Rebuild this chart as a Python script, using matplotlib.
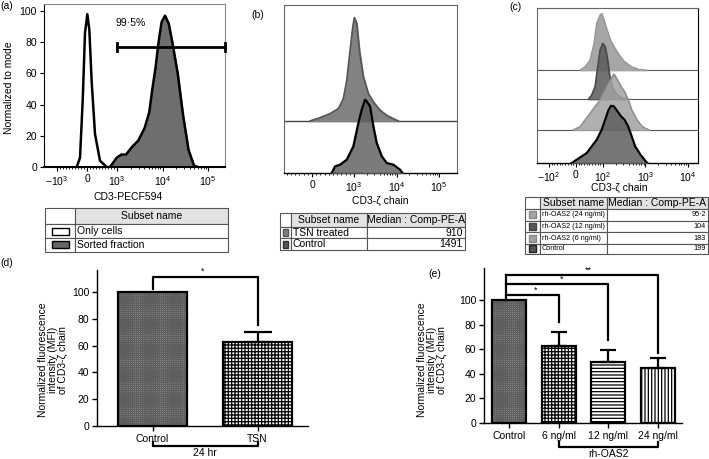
import numpy as np
import matplotlib
matplotlib.use('Agg')
import matplotlib.pyplot as plt
from matplotlib.patches import Rectangle

plt.rcParams['font.family'] = ['Liberation Sans', 'DejaVu Sans']
plt.rcParams['mathtext.fontset'] = 'custom'
plt.rcParams['mathtext.rm'] = 'Liberation Sans'
plt.rcParams['hatch.linewidth'] = 0.9

# ---------------- data ----------------
# (a) histograms (CD3-PECF594 intensity, normalized to mode)
a_only_x = [-343, -233, -143, -67, 10, 77, 157, 267, 433, 657]
a_only_y = [0, 6, 43, 86, 98, 88, 54, 21, 4, 0]
a_sorted_x = [767, 990, 1247, 1577, 2150, 2940, 4030, 5100, 5970, 6970,
              8170, 9550, 11350, 13670, 16400, 21550, 28300, 37250, 49000, 59000]
a_sorted_y = [0, 6, 8, 8, 13, 17, 25, 35, 50, 63, 80, 93, 97, 92, 80, 60, 33, 11, 1, 0]
a_gate_x = [1000, 236000]
a_gate_y = 77
a_gate_label = '99·5%'
a_xticks = [-1000, 0, 1000, 10000, 100000]
a_xticklabels = [r'$\mathregular{-10^{3}}$', '0', r'$\mathregular{10^{3}}$',
                 r'$\mathregular{10^{4}}$', r'$\mathregular{10^{5}}$']
a_yticks = [0, 20, 40, 60, 80, 100]
a_table_names = ['Only cells', 'Sorted fraction']

# (b) histograms (CD3-zeta chain)
b_tsn_x = [-48, 190, 429, 626, 745, 826, 905, 969, 1016, 1158, 1334, 1655,
           2170, 2843, 4090, 5880, 8410, 11000]
b_tsn_y = [0, 3.2, 7.1, 11.9, 21.5, 39.1, 67.9, 90.4, 99.4, 93.6, 67.9, 42.3,
           26.3, 18.3, 10.3, 5.4, 2.2, 0]
b_ctrl_x = [469, 548, 667, 826, 983, 1263, 1517, 1814, 1987, 2378, 2843, 3410,
            4477, 5870, 8410, 12080, 13700]
b_ctrl_y = [0, 6.4, 8, 12.8, 25.6, 48.1, 60.9, 70.5, 68.9, 64.1, 44.9, 28.8,
            16.1, 9.6, 8, 3.2, 0]
b_xticks = [0, 1000, 10000, 100000]
b_xticklabels = ['0', r'$\mathregular{10^{3}}$', r'$\mathregular{10^{4}}$',
                 r'$\mathregular{10^{5}}$']
b_table_names = ['TSN treated', 'Control']
b_table_medians = ['910', '1491']

# (c) histograms (CD3-zeta chain, rh-OAS2)
c_24_x = [14.8, 33.3, 51.9, 66.7, 76.7, 88.9, 95.2, 101.7, 123.7, 149.6, 180.9,
          241.3, 321.8, 473, 695.8, 1016]
c_24_y = [0, 5.8, 17.5, 46.8, 81.9, 96.5, 99.4, 90.6, 70.2, 52.6, 40.9, 26.3,
          14.6, 5.8, 1.2, 0]
c_12_x = [45.7, 58, 70.4, 80.2, 88.9, 98.8, 112.2, 128.1, 143.7, 165, 199.5, 266, 391]
c_12_y = [0, 7.6, 22.2, 57.3, 86.5, 98.2, 92.4, 69, 39.8, 22.2, 10.5, 3.5, 0]
c_6_x = [-10, 14.8, 33.3, 51.9, 70.4, 88.9, 101.7, 123.7, 149.6, 180.9, 220, 266,
         321.8, 391, 473, 631, 841, 1208]
c_6_y = [0, 5.8, 17.5, 29.2, 40.9, 52.6, 64.3, 76, 87.7, 98.2, 87.7, 76, 67.3,
         52.6, 35.1, 17.5, 5.8, 0]
c_ctrl_x = [-15.9, 2.6, 21.1, 39.6, 58.1, 76.7, 95.2, 112.2, 135.7, 155.8, 180.9,
            220, 266, 321.8, 391, 473, 572, 763, 1016, 1107]
c_ctrl_y = [0, 5.8, 11.7, 17.5, 29.2, 40.9, 58.5, 76, 93.6, 100.6, 99.4, 90.6,
            81.9, 76, 64.3, 46.8, 29.2, 14.6, 2.9, 0]
c_xticks = [-100, 0, 100, 1000, 10000]
c_xticklabels = [r'$\mathregular{-10^{2}}$', '0', r'$\mathregular{10^{2}}$',
                 r'$\mathregular{10^{3}}$', r'$\mathregular{10^{4}}$']
c_table_names = ['rh-OAS2 (24 ng/ml)', 'rh-OAS2 (12 ng/ml)', 'rh-OAS2 (6 ng/ml)', 'Control']
c_table_medians = ['95·2', '104', '183', '199']

# (d) bar chart
d_categories = ['Control', 'TSN']
d_values = [100, 62.5]
d_errors = [0, 7.4]
# (e) bar chart
e_categories = ['Control', '6 ng/ml', '12 ng/ml', '24 ng/ml']
e_values = [100, 62.8, 49.8, 45]
e_errors = [0, 11.2, 9.3, 8]
bar_yticks = [0, 20, 40, 60, 80, 100]
ylabel_mfi = 'Normalized fluorescence\nintensity (MFI)\nof CD3-ζ chain'

# ---------------- figure ----------------
W, H = 709, 459
fig = plt.figure(figsize=(W / 100, H / 100), dpi=100)
FS = 7.5


def ax_px(l, t, r, b):
    return fig.add_axes([l / W, 1 - b / H, (r - l) / W, (b - t) / H])


def ftxt(x, y, s, **kw):
    return fig.text(x / W, 1 - y / H, s, **kw)


def minor_list(linthresh, lo_dec, hi_dec, lo, hi):
    lin = [v for v in np.arange(-0.9, 1.0, 0.1) * linthresh if abs(v) > 1e-9]
    logs = [k * 10.0 ** d for d in range(lo_dec, hi_dec) for k in range(2, 10)]
    negs = [-k * linthresh for k in range(2, 10)]
    return [v for v in lin + logs + negs if lo < v < hi]


def style_flow(ax, gray='#666666'):
    for s in ['top', 'right', 'left']:
        ax.spines[s].set_color(gray)
        ax.spines[s].set_linewidth(0.8)
    ax.spines['bottom'].set_color('black')
    ax.spines['bottom'].set_linewidth(1.0)
    ax.tick_params(axis='x', which='major', length=3, width=0.8, labelsize=FS, pad=2)
    ax.tick_params(axis='x', which='minor', length=1.6, width=0.6)


# ---- (a) ----
axa = ax_px(44, 4, 225, 167)
axa.set_xscale('symlog', linthresh=1000, linscale=0.594)
a_xlim = (-1930, 236000)
axa.fill_between(a_only_x, a_only_y, color='white', zorder=2)
axa.plot(a_only_x, a_only_y, color='black', lw=1.8, zorder=3)
axa.fill_between(a_sorted_x, a_sorted_y, color='#6e6e6e', zorder=2)
axa.plot(a_sorted_x, a_sorted_y, color='black', lw=1.8, zorder=3)
axa.plot(a_gate_x, [a_gate_y] * 2, color='black', lw=2.0, zorder=4, clip_on=False)
for gx in a_gate_x:
    axa.plot([gx, gx], [a_gate_y - 2.5, a_gate_y + 2.5], color='black', lw=2.0,
             zorder=4, clip_on=False)
axa.text(2000, 92, a_gate_label, ha='center', va='center', fontsize=FS)
axa.set_xticks(a_xticks)
axa.set_xticklabels(a_xticklabels)
axa.set_xticks(minor_list(1000, 3, 5, *a_xlim), minor=True)
axa.set_yticks(a_yticks)
axa.set_xlim(*a_xlim)
axa.set_ylim(0, 104.5)
style_flow(axa, gray='#888888')
axa.spines['left'].set_color('black')
axa.tick_params(axis='y', length=3, width=0.8, labelsize=FS, pad=2)
axa.spines['bottom'].set_linewidth(1.5)
ftxt(9, 88, 'Normalized to mode', rotation=90, ha='center', va='center', fontsize=FS)
ftxt(128, 197, 'CD3-PECF594', ha='center', va='center', fontsize=FS)

# ---- (b) ----
axb = ax_px(284, 5, 457, 173)
axb.set_xscale('symlog', linthresh=1000, linscale=0.889)
b_xlim = (-667, 263000)
b_off = 50
axb.axhline(b_off, color='#444444', lw=1.0, zorder=1)
axb.fill_between(b_tsn_x, np.array(b_tsn_y) + b_off, b_off, color='#828282', zorder=2)
axb.plot(b_tsn_x, np.array(b_tsn_y) + b_off, color='#555555', lw=1.2, zorder=3)
axb.fill_between(b_ctrl_x, b_ctrl_y, 0, color='#5a5a5a', alpha=0.8, zorder=4)
axb.plot(b_ctrl_x, b_ctrl_y, color='black', lw=1.6, zorder=5)
axb.set_xticks(b_xticks)
axb.set_xticklabels(b_xticklabels)
axb.set_xticks(minor_list(1000, 3, 5, *b_xlim), minor=True)
axb.set_yticks([])
axb.set_xlim(*b_xlim)
axb.set_ylim(0, 161.5)
style_flow(axb)
ftxt(380, 201, 'CD3-ζ chain', ha='center', va='center', fontsize=FS)

# ---- (c) ----
axc = ax_px(537, 8, 698, 163)
axc.set_xscale('symlog', linthresh=100, linscale=0.572)
c_xlim = (-191, 17200)
c_series = [(c_24_x, c_24_y, 163, '#a6a6a6', '#999999', 1.0, 1.0),
            (c_12_x, c_12_y, 112, '#5a5a5a', '#4a4a4a', 0.85, 1.0),
            (c_6_x, c_6_y, 58, '#a2a2a2', '#8e8e8e', 0.85, 1.0),
            (c_ctrl_x, c_ctrl_y, 0, '#5e5e5e', 'black', 0.85, 1.5)]
for i, (xs, ys, off, fc, ec, al, lw) in enumerate(c_series):
    if off > 0:
        axc.axhline(off, color='#555555', lw=0.8, zorder=2 * i + 1)
    yy = np.array(ys) + off
    axc.fill_between(xs, yy, off, color=fc, alpha=al, zorder=2 * i + 2)
    axc.plot(xs, yy, color=ec, lw=lw, zorder=2 * i + 2.5)
axc.set_xticks(c_xticks)
axc.set_xticklabels(c_xticklabels)
axc.set_xticks(minor_list(100, 2, 4, *c_xlim), minor=True)
axc.set_yticks([])
axc.set_xlim(*c_xlim)
axc.set_ylim(0, 272)
style_flow(axc)
axc.spines['right'].set_color('black')
ftxt(619, 188, 'CD3-ζ chain', ha='center', va='center', fontsize=FS)


# ---- tables ----
def draw_table(cols, rows, header, body, swatches, aligns, fs_head, fs_body,
               sw_size, header_shade_from=1):
    l, r, t, b = cols[0], cols[-1], rows[0], rows[-1]
    ax = ax_px(l, t, r, b + 0.5)
    ax.set_xlim(l, r)
    ax.set_ylim(b + 0.5, t)
    ax.axis('off')
    ec = '#555555'
    for j in range(len(cols) - 1):
        fc = '#e2e2e2' if j >= header_shade_from else 'white'
        ax.add_patch(Rectangle((cols[j], rows[0]), cols[j + 1] - cols[j],
                               rows[1] - rows[0], fc=fc, ec=ec, lw=0.8, clip_on=False))
        if header[j]:
            ax.text((cols[j] + cols[j + 1]) / 2, (rows[0] + rows[1]) / 2, header[j],
                    ha='center', va='center', fontsize=fs_head)
    for i, rowvals in enumerate(body):
        y0, y1 = rows[i + 1], rows[i + 2]
        for j in range(len(cols) - 1):
            ax.add_patch(Rectangle((cols[j], y0), cols[j + 1] - cols[j], y1 - y0,
                                   fc='white', ec=ec, lw=0.8, clip_on=False))
        sw, sh = sw_size
        cx = (cols[0] + cols[1]) / 2
        cy = (y0 + y1) / 2
        ax.add_patch(Rectangle((cx - sw / 2, cy - sh / 2), sw, sh, fc=swatches[i][0],
                               ec=swatches[i][1], lw=1.0, clip_on=False))
        for j, val in enumerate(rowvals):
            c0, c1 = cols[j + 1], cols[j + 2]
            if aligns[j] == 'left':
                ax.text(c0 + 2, cy, val, ha='left', va='center', fontsize=fs_body)
            else:
                ax.text(c1 - 2, cy, val, ha='right', va='center', fontsize=fs_body)
    return ax


draw_table([45, 75, 228], [208.3, 224.3, 237.7, 251.5], ['', 'Subset name'],
           [[n] for n in a_table_names],
           [('white', 'black'), ('#666666', 'black')], ['left'], FS, FS, (17, 7))
draw_table([280, 290.7, 366.7, 465], [213.3, 226.7, 238.3, 250],
           ['', 'Subset name', 'Median : Comp-PE-A'],
           [[n, m] for n, m in zip(b_table_names, b_table_medians)],
           [('#808080', '#555555'), ('#555555', '#333333')], ['left', 'right'],
           FS, FS, (5, 7))
draw_table([525, 540, 606.7, 708], [197.3, 209.3, 220.7, 232.3, 244, 254],
           ['', 'Subset name', 'Median : Comp-PE-A'],
           [[n, m] for n, m in zip(c_table_names, c_table_medians)],
           [('#a6a6a6', '#888888'), ('#5a5a5a', '#444444'), ('#a2a2a2', '#888888'),
            ('#555555', '#222222')], ['left', 'right'], FS, 5.2, (7, 7))


# ---- bar charts ----
def bar_panel(ax, cats, vals, errs, styles, width, capsize):
    x = np.arange(len(cats))
    for xi, v, (fc, hatch, hc) in zip(x, vals, styles):
        ax.bar(xi, v, width, color=fc, hatch=hatch, edgecolor=hc, lw=0, zorder=2)
    ax.bar(x, vals, width, fill=False, edgecolor='black', lw=1.6, zorder=3)
    xe = [xi for xi, e in zip(x, errs) if e > 0]
    ve = [v for v, e in zip(vals, errs) if e > 0]
    ee = [e for e in errs if e > 0]
    ax.errorbar(xe, ve, yerr=[np.zeros(len(ee)), ee], fmt='none', ecolor='black',
                elinewidth=1.6, capsize=capsize, capthick=1.6, zorder=4)
    ax.set_xticks(x)
    ax.set_xticklabels(cats)
    ax.set_yticks(bar_yticks)
    for s in ['top', 'right']:
        ax.spines[s].set_visible(False)
    for s in ['left', 'bottom']:
        ax.spines[s].set_linewidth(1.0)
    ax.tick_params(length=3.5, width=1.0, labelsize=FS, pad=2)


style_ctrl = ('#a8a8a8', '++++++++', '#5e5e5e')
style_check = ('white', '+++++', 'black')
style_h = ('white', '-----', 'black')
style_v = ('white', '|||||', 'black')

axd = ax_px(97, 270, 308, 426)
bar_panel(axd, d_categories, d_values, d_errors, [style_ctrl, style_check], 0.657, 10)
axd.set_xlim(-0.529, 1.481)
axd.set_ylim(0, 116.4)
kw = dict(color='black', lw=1.6, clip_on=False, zorder=5)
axd.plot([0, 0, 1, 1], [102.5, 111.2, 111.2, 75.4], **kw)
axd.text(0.48, 112, '*', ha='center', va='bottom', fontsize=6.5)
axd.plot([0, 0, 1, 1], [-11.7, -14.9, -14.9, -11.7], **kw)
axd.text(0.5, -19.8, '24 hr', ha='center', va='center', fontsize=FS)
ftxt(53, 360, ylabel_mfi, rotation=90, ha='center', va='center', fontsize=FS,
     multialignment='center', linespacing=1.0)

axe = ax_px(484, 268, 682, 423)
bar_panel(axe, e_categories, e_values, e_errors,
          [style_ctrl, style_check, style_h, style_v], 0.687, 6)
axe.set_xlim(-0.515, 3.485)
axe.set_ylim(0, 126)
axe.plot([-0.07, -0.07], [100, 120.3], **kw)
for xi, lvl, end in [(1, 104, 82), (2, 113, 67.5), (3, 120.3, 57)]:
    axe.plot([-0.07, xi, xi], [lvl, lvl, end], **kw)
for sx, sy, star in [(0.52, 104.5, '*'), (1.06, 113.5, '*'), (1.6, 120.8, '**')]:
    axe.text(sx, sy, star, ha='center', va='bottom', fontsize=6.5)
axe.plot([1, 1, 3, 3], [-15.2, -19.8, -19.8, -15.2], **kw)
axe.text(2, -25.3, 'rh-OAS2', ha='center', va='center', fontsize=FS)
ftxt(432, 360, ylabel_mfi, rotation=90, ha='center', va='center', fontsize=FS,
     multialignment='center', linespacing=1.0)

# panel labels
for (px, py, lab) in [(7, 6, '(a)'), (258, 15, '(b)'), (515, 7, '(c)'),
                      (7, 263, '(d)'), (435, 274, '(e)')]:
    ftxt(px, py, lab, ha='center', va='center', fontsize=FS)

fig.savefig('out.png', dpi=100)
